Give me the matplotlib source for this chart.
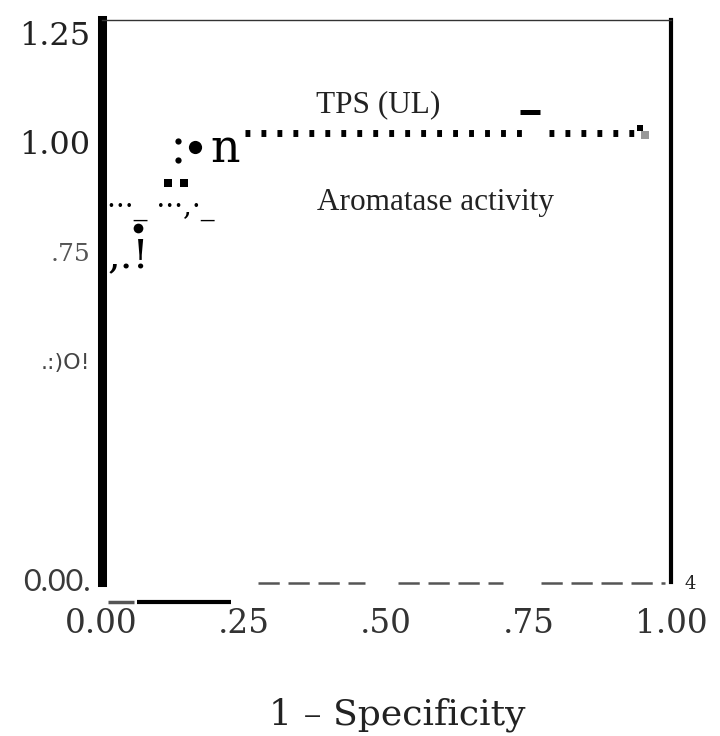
import matplotlib
matplotlib.use("Agg")
import matplotlib.pyplot as plt

# ---- data ----
x_ticks = [0.0, 0.25, 0.50, 0.75, 1.00]
x_tick_labels = ["0.00", ".25", ".50", ".75", "1.00"]
y_ticks = [0.0, 0.50, 0.75, 1.00, 1.25]
y_tick_labels = ["0.00.", ".:)O!", ".75", "1.00", "1.25"]

# ROC step points (1 - specificity, sensitivity)
dot_x, dot_y = [0.064], [0.804]
square_x, square_y = [0.116, 0.144], [0.907, 0.907]
bullet_x, bullet_y = [0.165], [0.990]
colon_x, colon_y = [0.135, 0.135], [1.003, 0.960]
# dotted TPS (UL) plateau, two runs
tps_runs_x = [[0.252, 0.738], [0.786, 0.950]]
tps_level = 1.021
tps_peak_x, tps_peak_y = [0.752], [1.069]
end_black_x, end_black_y = [0.946], [1.033]
end_gray_x, end_gray_y = [0.955], [1.017]
# broken bottom axis line and marks below it
axis_runs_x = [[0.274, 0.462], [0.521, 0.705], [0.771, 0.990]]
axis_level = -0.007
under_gray_x = [0.012, 0.057]
under_black_x = [0.0625, 0.227]
under_level = -0.050

fig = plt.figure(figsize=(7.2, 7.36), dpi=100)
ax = fig.add_axes([101.5 / 720, (736 - 582) / 736, 569.5 / 720, 562 / 736])
ax.set_xlim(0.0026, 0.9913)
ax.set_ylim(-0.0046, 1.2797)

# spines
ax.spines["left"].set_linewidth(6.5)
ax.spines["left"].set_color("black")
ax.spines["right"].set_linewidth(3)
ax.spines["right"].set_color("black")
ax.spines["top"].set_linewidth(1.0)
ax.spines["top"].set_color("#333333")
ax.spines["bottom"].set_visible(False)

# ticks
ax.set_xticks(x_ticks)
ax.set_xticklabels(x_tick_labels, family="DejaVu Serif", fontsize=23.5, color="#333333")
ax.set_yticks(y_ticks)
ax.set_yticklabels(y_tick_labels)
ax.tick_params(axis="both", length=0)
ax.tick_params(axis="x", pad=19)
ax.tick_params(axis="y", pad=8)
ystyles = [
    dict(family="Lato", weight="normal", fontsize=22, color="#3a3a3a"),
    dict(family="DejaVu Sans", fontsize=16, color="#444444"),
    dict(family="DejaVu Serif", fontsize=18, color="#555555"),
    dict(family="DejaVu Serif", fontsize=23, color="#222222"),
    dict(family="DejaVu Serif", fontsize=23, color="#222222"),
]
for lbl, st in zip(ax.get_yticklabels(), ystyles):
    lbl.set_fontfamily(st["family"])
    lbl.set_fontsize(st["fontsize"])
    lbl.set_color(st["color"])
    lbl.set_fontweight(st.get("weight", "normal"))

# broken bottom axis
for run in axis_runs_x:
    ax.plot(run, [axis_level, axis_level], color="#555555", lw=1.8,
            linestyle=(0, (8.5, 3.5)), clip_on=False)
ax.plot(under_gray_x, [under_level] * 2, color="#555555", lw=2.5,
        solid_capstyle="butt", clip_on=False)
ax.plot(under_black_x, [under_level] * 2, color="black", lw=3,
        solid_capstyle="butt", clip_on=False)

# ROC marks
ax.plot(dot_x, dot_y, "o", color="black", ms=7, mew=0)
ax.plot(square_x, square_y, "s", color="black", ms=6, mew=0)
ax.plot(bullet_x, bullet_y, "o", color="black", ms=9.5, mew=0)
ax.plot(colon_x, colon_y, "o", color="black", ms=4.5, mew=0)
for run in tps_runs_x:
    ax.plot(run, [tps_level, tps_level], color="black", lw=5,
            linestyle=(0, (0.7, 1.6)), dash_capstyle="butt")
ax.plot(tps_peak_x, tps_peak_y, "_", color="black", ms=14, mew=3.6)
ax.plot(end_black_x, end_black_y, "s", color="black", ms=5, mew=0)
ax.plot(end_gray_x, end_gray_y, "s", color="#999999", ms=5.5, mew=0)

# text artefacts and labels
ax.text(0.192, 0.955, "n", family="DejaVu Serif", fontsize=33, color="black",
        ha="left", va="baseline")
ax.text(0.010, 0.715, ",.!", family="DejaVu Serif", fontsize=29, color="black",
        ha="left", va="baseline")
ax.text(0.010, 0.835, "\u00b7\u00b7\u00b7_ \u00b7\u00b7\u00b7,\u00b7_", family="DejaVu Serif",
        fontsize=20, color="black", ha="left", va="baseline")
ax.text(0.486, 1.07, "TPS (UL)", family="Liberation Serif", fontsize=22.5,
        color="#222222", ha="center", va="baseline")
ax.text(0.587, 0.845, "Aromatase activity", family="Liberation Serif", fontsize=22.5,
        color="#222222", ha="center", va="baseline")
ax.text(1.033, -0.010, "4", family="DejaVu Serif", fontsize=13, color="#222222",
        ha="center", va="center", clip_on=False)

ax.set_xlabel("1 \u2013 Specificity", family="DejaVu Serif", fontsize=26, color="#222222")
ax.xaxis.set_label_coords(0.519, -0.205)

fig.savefig("out.png", dpi=100)
